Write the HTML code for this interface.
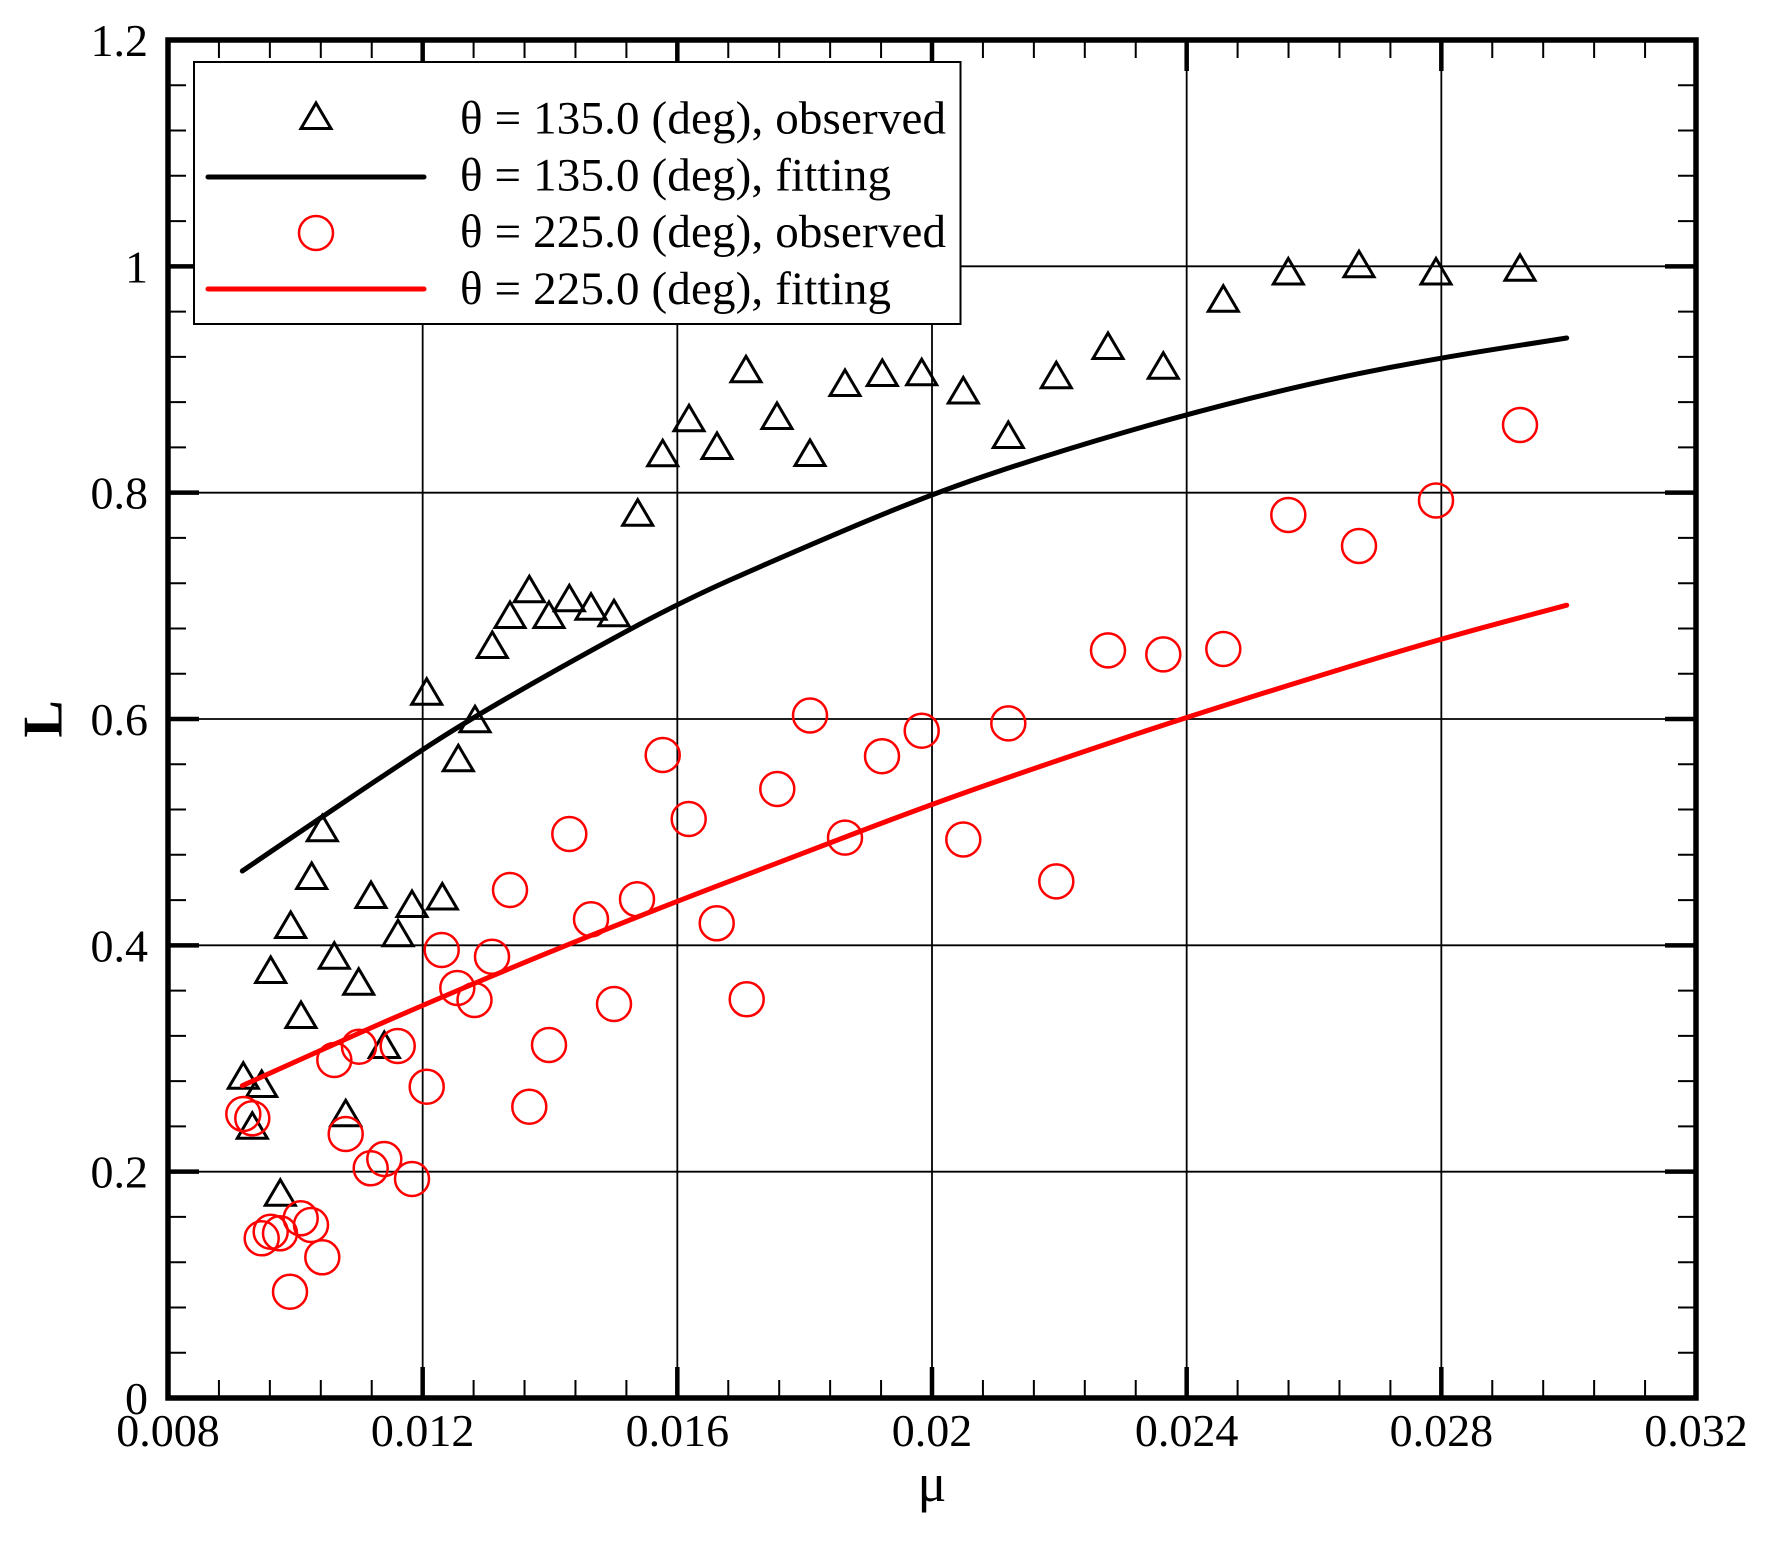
<!DOCTYPE html>
<html>
<head>
<meta charset="utf-8">
<style>
html,body{margin:0;padding:0;background:#fff;}
svg{display:block;}
text{font-family:"Liberation Serif","DejaVu Serif",serif;fill:#000;}
</style>
</head>
<body>
<svg width="1767" height="1545" viewBox="0 0 1767 1545" xmlns="http://www.w3.org/2000/svg">
<defs>
<path id="t" d="M0 -13 L15 12.5 L-15 12.5 Z" fill="none" stroke="#000" stroke-width="3"/>
</defs>
<rect x="0" y="0" width="1767" height="1545" fill="#fff"/>
<g stroke="#000" stroke-width="1.8" fill="none">
<path d="M422.67 40V1398M677.33 40V1398M932 40V1398M1186.67 40V1398M1441.33 40V1398"/>
<path d="M168 1171.67H1696M168 945.33H1696M168 719H1696M168 492.67H1696M168 266.33H1696"/>
</g>
<g stroke="#000" stroke-width="2" fill="none">
<path d="M218.93 1398v-18M269.87 1398v-18M320.8 1398v-18M371.73 1398v-18M473.6 1398v-18M524.53 1398v-18M575.47 1398v-18M626.4 1398v-18M728.27 1398v-18M779.2 1398v-18M830.13 1398v-18M881.07 1398v-18M982.93 1398v-18M1033.87 1398v-18M1084.8 1398v-18M1135.73 1398v-18M1237.6 1398v-18M1288.53 1398v-18M1339.47 1398v-18M1390.4 1398v-18M1492.27 1398v-18M1543.2 1398v-18M1594.13 1398v-18M1645.07 1398v-18"/>
<path d="M218.93 40v18M269.87 40v18M320.8 40v18M371.73 40v18M473.6 40v18M524.53 40v18M575.47 40v18M626.4 40v18M728.27 40v18M779.2 40v18M830.13 40v18M881.07 40v18M982.93 40v18M1033.87 40v18M1084.8 40v18M1135.73 40v18M1237.6 40v18M1288.53 40v18M1339.47 40v18M1390.4 40v18M1492.27 40v18M1543.2 40v18M1594.13 40v18M1645.07 40v18"/>
<path d="M168 1352.73h18M168 1307.47h18M168 1262.2h18M168 1216.93h18M168 1126.4h18M168 1081.13h18M168 1035.87h18M168 990.6h18M168 900.07h18M168 854.8h18M168 809.53h18M168 764.27h18M168 673.73h18M168 628.47h18M168 583.2h18M168 537.93h18M168 447.4h18M168 402.13h18M168 356.87h18M168 311.6h18M168 221.07h18M168 175.8h18M168 130.53h18M168 85.27h18"/>
<path d="M1696 1352.73h-18M1696 1307.47h-18M1696 1262.2h-18M1696 1216.93h-18M1696 1126.4h-18M1696 1081.13h-18M1696 1035.87h-18M1696 990.6h-18M1696 900.07h-18M1696 854.8h-18M1696 809.53h-18M1696 764.27h-18M1696 673.73h-18M1696 628.47h-18M1696 583.2h-18M1696 537.93h-18M1696 447.4h-18M1696 402.13h-18M1696 356.87h-18M1696 311.6h-18M1696 221.07h-18M1696 175.8h-18M1696 130.53h-18M1696 85.27h-18"/>
</g>
<g stroke="#000" stroke-width="4.5" fill="none">
<path d="M422.67 1398v-31M677.33 1398v-31M932 1398v-31M1186.67 1398v-31M1441.33 1398v-31"/>
<path d="M422.67 40v31M677.33 40v31M932 40v31M1186.67 40v31M1441.33 40v31"/>
<path d="M168 1171.67h31M168 945.33h31M168 719h31M168 492.67h31M168 266.33h31"/>
<path d="M1696 1171.67h-31M1696 945.33h-31M1696 719h-31M1696 492.67h-31M1696 266.33h-31"/>
</g>
<g>
<use href="#t" x="243.3" y="1075.7"/>
<use href="#t" x="252.3" y="1125.7"/>
<use href="#t" x="261.7" y="1084"/>
<use href="#t" x="270.7" y="970"/>
<use href="#t" x="280.3" y="1192.7"/>
<use href="#t" x="290.7" y="925"/>
<use href="#t" x="301" y="1015"/>
<use href="#t" x="311.7" y="876"/>
<use href="#t" x="322.3" y="828.3"/>
<use href="#t" x="334.3" y="955.7"/>
<use href="#t" x="345.7" y="1113.3"/>
<use href="#t" x="358.7" y="981.7"/>
<use href="#t" x="371" y="895"/>
<use href="#t" x="384.3" y="1045"/>
<use href="#t" x="398" y="933.3"/>
<use href="#t" x="412" y="904"/>
<use href="#t" x="426.7" y="691.7"/>
<use href="#t" x="442.3" y="896.5"/>
<use href="#t" x="458.3" y="758.3"/>
<use href="#t" x="475" y="719.3"/>
<use href="#t" x="492.3" y="645"/>
<use href="#t" x="510" y="615"/>
<use href="#t" x="529.3" y="589.3"/>
<use href="#t" x="549" y="615"/>
<use href="#t" x="569.3" y="598.3"/>
<use href="#t" x="591" y="606.7"/>
<use href="#t" x="614" y="613.3"/>
<use href="#t" x="637.7" y="512.7"/>
<use href="#t" x="662.7" y="453.3"/>
<use href="#t" x="689" y="418.3"/>
<use href="#t" x="717" y="446"/>
<use href="#t" x="746" y="369.3"/>
<use href="#t" x="777" y="416"/>
<use href="#t" x="810" y="453"/>
<use href="#t" x="845" y="383"/>
<use href="#t" x="882.3" y="373"/>
<use href="#t" x="921.7" y="372.2"/>
<use href="#t" x="963.3" y="390.5"/>
<use href="#t" x="1008.3" y="435"/>
<use href="#t" x="1056.3" y="375.2"/>
<use href="#t" x="1108" y="346"/>
<use href="#t" x="1163.3" y="365.7"/>
<use href="#t" x="1223.3" y="298.7"/>
<use href="#t" x="1288.3" y="271.5"/>
<use href="#t" x="1359" y="264.2"/>
<use href="#t" x="1436" y="271.5"/>
<use href="#t" x="1520" y="267.8"/>
</g>
<g fill="none" stroke="#ff0000" stroke-width="2.5">
<circle cx="243.3" cy="1114" r="17"/>
<circle cx="252.3" cy="1118.3" r="17"/>
<circle cx="261.7" cy="1238.3" r="17"/>
<circle cx="270.7" cy="1231.7" r="17"/>
<circle cx="280" cy="1233.3" r="17"/>
<circle cx="290" cy="1291.7" r="17"/>
<circle cx="300.7" cy="1218.3" r="17"/>
<circle cx="311" cy="1225" r="17"/>
<circle cx="322.3" cy="1257.3" r="17"/>
<circle cx="334.3" cy="1060" r="17"/>
<circle cx="345.7" cy="1134" r="17"/>
<circle cx="359" cy="1046.7" r="17"/>
<circle cx="370.7" cy="1168.3" r="17"/>
<circle cx="384.3" cy="1159" r="17"/>
<circle cx="397.7" cy="1046" r="17"/>
<circle cx="412" cy="1179" r="17"/>
<circle cx="426.7" cy="1086.7" r="17"/>
<circle cx="441.7" cy="950" r="17"/>
<circle cx="457.3" cy="988" r="17"/>
<circle cx="474.5" cy="1000" r="17"/>
<circle cx="492" cy="956.7" r="17"/>
<circle cx="510" cy="890" r="17"/>
<circle cx="529.3" cy="1106.7" r="17"/>
<circle cx="549" cy="1045" r="17"/>
<circle cx="569.3" cy="834" r="17"/>
<circle cx="591" cy="919.3" r="17"/>
<circle cx="614" cy="1004" r="17"/>
<circle cx="637" cy="899.3" r="17"/>
<circle cx="662.7" cy="755" r="17"/>
<circle cx="688.7" cy="819" r="17"/>
<circle cx="716.7" cy="923.3" r="17"/>
<circle cx="746.7" cy="999.3" r="17"/>
<circle cx="777.3" cy="789" r="17"/>
<circle cx="810" cy="715.5" r="17"/>
<circle cx="845" cy="837.6" r="17"/>
<circle cx="882" cy="756.2" r="17"/>
<circle cx="921.7" cy="730.7" r="17"/>
<circle cx="963.3" cy="839.5" r="17"/>
<circle cx="1008.3" cy="723.4" r="17"/>
<circle cx="1056.3" cy="881.4" r="17"/>
<circle cx="1108" cy="650.4" r="17"/>
<circle cx="1163.3" cy="654.4" r="17"/>
<circle cx="1223.3" cy="649" r="17"/>
<circle cx="1288.3" cy="515" r="17"/>
<circle cx="1359" cy="546" r="17"/>
<circle cx="1436" cy="500.5" r="17"/>
<circle cx="1520" cy="425" r="17"/>
</g>
<path fill="none" stroke="#000" stroke-width="5" stroke-linecap="round" stroke-linejoin="round" d="M242.3 871 L272.8 850.25 Q303.3 829.5 351.65 797 Q400 764.5 431.65 743.9 Q463.3 723.3 511.65 695.4 Q560 667.5 618.85 635.4 Q677.7 603.3 729.7 580.15 Q781.7 557 856.7 525.2 Q931.7 493.4 995.85 472.2 Q1060 451 1123.35 432.6 Q1186.7 414.2 1253.35 397.6 Q1320 381 1380.5 369.3 Q1441 357.6 1503.85 347.8 L1566.7 338"/>
<path fill="none" stroke="#ff0000" stroke-width="5" stroke-linecap="round" stroke-linejoin="round" d="M242.3 1085.7 L281.15 1068.1 Q320 1050.5 360 1032.75 Q400 1015 460 989.5 Q520 964 585 937.85 Q650 911.7 715 886.85 Q780 862 855.85 833 Q931.7 804 995.85 781.75 Q1060 759.5 1123.35 738.35 Q1186.7 717.2 1248.35 697.85 Q1310 678.5 1375.5 658.6 Q1441 638.7 1503.85 621.95 L1566.7 605.2"/>
<rect x="168" y="40" width="1528" height="1358" fill="none" stroke="#000" stroke-width="5.5"/>
<rect x="194" y="62" width="766.5" height="262" fill="#fff" stroke="#000" stroke-width="2"/>
<use href="#t" x="316" y="116"/>
<line x1="208" y1="177" x2="424" y2="177" stroke="#000" stroke-width="5" stroke-linecap="round"/>
<circle cx="316" cy="233" r="17" fill="none" stroke="#ff0000" stroke-width="2.5"/>
<line x1="208" y1="289" x2="424" y2="289" stroke="#ff0000" stroke-width="5" stroke-linecap="round"/>
<g font-size="47">
<text x="460" y="133.5" textLength="486">θ = 135.0 (deg), observed</text>
<text x="460" y="190.5" textLength="431">θ = 135.0 (deg), fitting</text>
<text x="460" y="247" textLength="486">θ = 225.0 (deg), observed</text>
<text x="460" y="304" textLength="431">θ = 225.0 (deg), fitting</text>
</g>
<g font-size="46" text-anchor="end">
<text x="148" y="1414">0</text>
<text x="148" y="1187.7">0.2</text>
<text x="148" y="961.3">0.4</text>
<text x="148" y="735">0.6</text>
<text x="148" y="508.7">0.8</text>
<text x="148" y="282.3">1</text>
<text x="148" y="56">1.2</text>
</g>
<g font-size="46" text-anchor="middle">
<text x="168" y="1446">0.008</text>
<text x="422.67" y="1446">0.012</text>
<text x="677.33" y="1446">0.016</text>
<text x="932" y="1446">0.02</text>
<text x="1186.67" y="1446">0.024</text>
<text x="1441.33" y="1446">0.028</text>
<text x="1696" y="1446">0.032</text>
</g>
<text x="932" y="1501" font-size="54" text-anchor="middle">μ</text>
<text transform="translate(61.5,719) rotate(-90)" font-size="56" font-weight="bold" text-anchor="middle">L</text>
</svg>
</body>
</html>
